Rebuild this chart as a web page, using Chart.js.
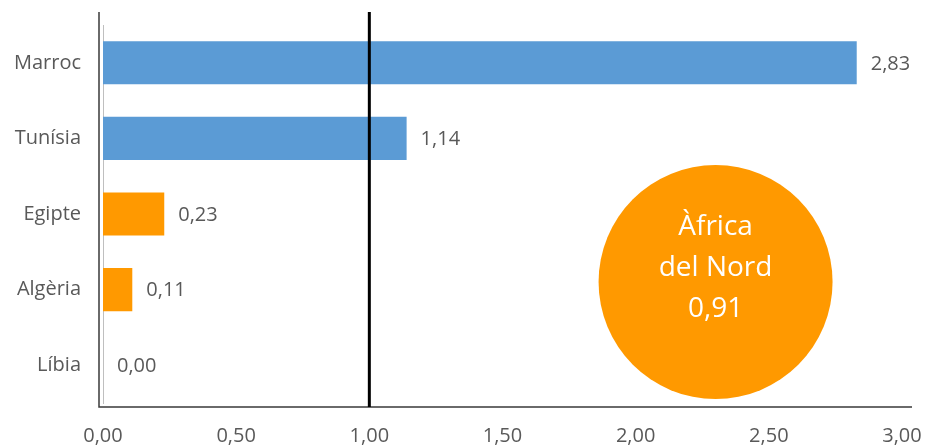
<!DOCTYPE html>
<html>
<head>
<meta charset="utf-8">
<script src="https://cdn.jsdelivr.net/npm/chart.js@4"></script>
<style>
  html, body { margin: 0; padding: 0; background: #fff; }
  #wrap { width: 927px; height: 445px; }
</style>
</head>
<body>
<div id="wrap"><canvas id="chart"></canvas></div>
<script>
// dades
const countries = ['Marroc', 'Tunísia', 'Egipte', 'Algèria', 'Líbia'];
const values = [2.83, 1.14, 0.23, 0.11, 0.00];
const xTicks = [0, 0.5, 1, 1.5, 2, 2.5, 3];
const regionName = ['Àfrica', 'del Nord'];
const regionValue = 0.91;
const refValue = 1;

const BLUE = '#5b9bd5';
const ORANGE = '#ff9900';
const TEXT = '#595959';
const FONT = '"Open Sans", "DejaVu Sans", sans-serif';

const fmt = v => v.toFixed(2).replace('.', ',');

// frame, reference line, value labels and region bubble
const extras = {
    id: 'extras',
    afterDatasetsDraw(chart) {
        const ctx = chart.ctx;
        const area = chart.chartArea;
        const x = chart.scales.x;
        const y = chart.scales.y;
        const left = x.getPixelForValue(0);
        ctx.save();

        // dark frame (left + bottom)
        ctx.strokeStyle = '#3a3a3a';
        ctx.lineWidth = 1.5;
        ctx.beginPath();
        ctx.moveTo(left - 4, 12);
        ctx.lineTo(left - 4, area.bottom + 4);
        ctx.lineTo(x.getPixelForValue(3) + 10, area.bottom + 4);
        ctx.stroke();

        // reference line at 1,00
        const rx = x.getPixelForValue(refValue);
        ctx.strokeStyle = '#000';
        ctx.lineWidth = 3;
        ctx.beginPath();
        ctx.moveTo(rx, 12);
        ctx.lineTo(rx, area.bottom + 4);
        ctx.stroke();

        // value labels
        ctx.fillStyle = TEXT;
        ctx.font = '20px ' + FONT;
        ctx.textAlign = 'left';
        ctx.textBaseline = 'middle';
        const meta = chart.getDatasetMeta(0);
        meta.data.forEach((bar, i) => {
            ctx.fillText(fmt(values[i]), bar.x + 14, bar.y + 1);
        });

        // region bubble
        const cx = x.getPixelForValue(2.3);
        const cy = y.getPixelForValue(2.9);
        ctx.fillStyle = ORANGE;
        ctx.beginPath();
        ctx.arc(cx, cy, 117, 0, Math.PI * 2);
        ctx.fill();
        ctx.fillStyle = '#fff';
        ctx.textAlign = 'center';
        ctx.font = '28px ' + FONT;
        const lines = [...regionName, fmt(regionValue)];
        lines.forEach((t, i) => {
            ctx.fillText(t, cx, cy - 55 + i * 41);
        });
        ctx.restore();
    }
};

new Chart(document.getElementById('chart'), {
    type: 'bar',
    data: {
        labels: countries,
        datasets: [{
            data: values,
            backgroundColor: values.map(v => v > regionValue ? BLUE : ORANGE),
            borderWidth: 0,
            barPercentage: 0.57,
            categoryPercentage: 1
        }]
    },
    options: {
        indexAxis: 'y',
        responsive: true,
        maintainAspectRatio: false,
        animation: false,
        layout: { padding: { top: 25, right: 25, left: 0, bottom: 0 } },
        plugins: {
            legend: { display: false },
            tooltip: { enabled: false }
        },
        scales: {
            x: {
                min: 0,
                max: 3,
                afterBuildTicks: s => { s.ticks = xTicks.map(v => ({ value: v })); },
                afterFit: s => {
                    s.height = 42;
                    s.paddingLeft = 0;
                    s.paddingRight = 0;
                },
                grid: { display: false, drawTicks: false },
                border: { display: false },
                ticks: {
                    color: TEXT,
                    font: { family: FONT, size: 20 },
                    padding: 21,
                    callback: v => fmt(v)
                }
            },
            y: {
                afterFit: s => {
                    s.width = 103;
                    s.paddingTop = 0;
                    s.paddingBottom = 0;
                },
                grid: { display: false, drawTicks: false },
                border: { display: true, color: '#bfbfbf', width: 1 },
                ticks: {
                    color: TEXT,
                    font: { family: FONT, size: 20 },
                    padding: 22
                }
            }
        }
    },
    plugins: [extras]
});
</script>
</body>
</html>
